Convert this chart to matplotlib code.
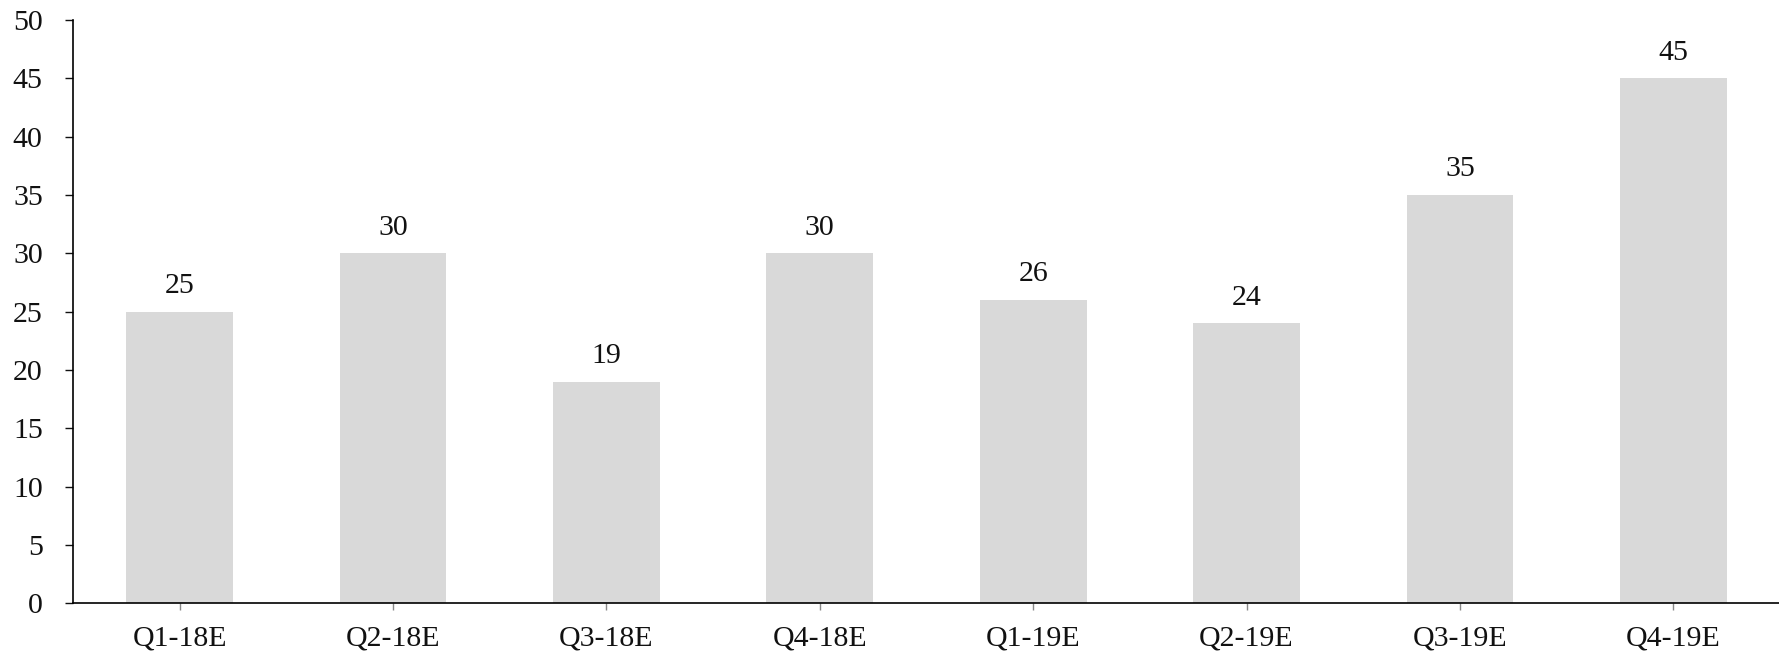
import matplotlib
matplotlib.use("Agg")
import matplotlib.pyplot as plt

categories = ["Q1-18E", "Q2-18E", "Q3-18E", "Q4-18E", "Q1-19E", "Q2-19E", "Q3-19E", "Q4-19E"]
values = [25, 30, 19, 30, 26, 24, 35, 45]
yticks = [0, 5, 10, 15, 20, 25, 30, 35, 40, 45, 50]

plt.rcParams['font.family'] = ['Liberation Serif', 'DejaVu Serif']
W, H = 1779, 653
fig = plt.figure(figsize=(W / 100, H / 100), dpi=100)
left, right, bottom, top = 73, 1780, 653 - 603.3, 653 - 20
ax = fig.add_axes([left / W, bottom / H, (right - left) / W, (top - bottom) / H])

x = range(len(categories))
ax.bar(x, values, width=0.5, color="#d9d9d9", zorder=2)
for xi, v in zip(x, values):
    ax.annotate(f"{v}", (xi, v), xytext=(0, 9), textcoords="offset points",
                ha="center", va="bottom", fontsize=21.5, color="#111111")

ax.set_xlim(-0.5, len(categories) - 0.5)
ax.set_ylim(0, 50)
ax.set_yticks(yticks)
ax.set_xticks(list(x))
ax.set_xticklabels(categories)
for s in ["top", "right"]:
    ax.spines[s].set_visible(False)
ax.spines["left"].set_linewidth(1.2)
ax.spines["bottom"].set_linewidth(1.2)
ax.tick_params(axis="y", length=5.8, width=1.0, pad=16, labelsize=21.5, colors="#111111")
ax.tick_params(axis="x", length=5.0, width=1.0, pad=11, labelsize=21.5, color="#888888", labelcolor="#111111")

fig.savefig("out.png", dpi=100)
